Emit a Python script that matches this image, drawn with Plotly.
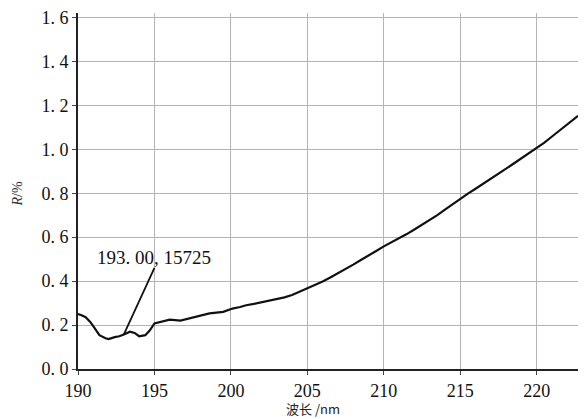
import plotly.graph_objects as go

# Reflectance spectrum, wavelength in nm, reflectance in %
wavelength = [190.0, 190.2, 190.5, 190.8, 191.1, 191.4, 191.8, 192.0, 192.4, 192.7,
              193.0, 193.4, 193.7, 194.0, 194.4, 194.7, 195.0, 195.4, 196.0, 196.7,
              197.3, 197.8, 198.6, 199.5, 200.1, 200.6, 201.0, 201.5, 202.0, 202.5,
              203.0, 203.5, 204.0, 204.5, 205.0, 205.5, 206.0, 206.5, 207.0, 207.5,
              208.0, 208.5, 209.0, 209.5, 210.0, 210.5, 211.0, 211.5, 212.0, 212.5,
              213.0, 213.5, 214.0, 214.5, 215.0, 215.5, 216.0, 216.5, 217.0, 217.5,
              218.0, 218.5, 219.0, 219.5, 220.0, 220.5, 221.0, 221.5, 222.0, 222.7]
reflectance = [0.250, 0.246, 0.236, 0.214, 0.185, 0.154, 0.140, 0.136, 0.145, 0.149,
               0.15725, 0.170, 0.164, 0.149, 0.154, 0.176, 0.207, 0.214, 0.225, 0.220,
               0.230, 0.240, 0.253, 0.260, 0.275, 0.282, 0.290, 0.296, 0.303, 0.309,
               0.318, 0.326, 0.337, 0.352, 0.368, 0.383, 0.398, 0.416, 0.435, 0.455,
               0.475, 0.496, 0.515, 0.537, 0.558, 0.576, 0.595, 0.614, 0.635, 0.656,
               0.677, 0.700, 0.725, 0.750, 0.777, 0.798, 0.820, 0.844, 0.868, 0.890,
               0.912, 0.935, 0.958, 0.981, 1.004, 1.030, 1.058, 1.086, 1.115, 1.152]

x_ticks = [190, 195, 200, 205, 210, 215, 220]
y_ticks = [0.0, 0.2, 0.4, 0.6, 0.8, 1.0, 1.2, 1.4, 1.6]
y_tick_text = ["0. 0", "0. 2", "0. 4", "0. 6", "0. 8", "1. 0", "1. 2", "1. 4", "1. 6"]

# Marked point and where its label sits
mark_x, mark_y = 193.00, 0.15725
label_x, label_y = 195.0, 0.46
label_text = "193. 00, 15725"

serif = "Liberation Serif, serif"

fig = go.Figure()
fig.add_trace(go.Scatter(
    x=wavelength, y=reflectance, mode="lines",
    line=dict(color="#111111", width=2.2),
    showlegend=False, hoverinfo="skip",
))

# Leader line from the marked point up to the label
fig.add_shape(type="line", xref="x", yref="y",
              x0=mark_x, y0=mark_y, x1=label_x, y1=label_y,
              line=dict(color="#111111", width=1.8))
fig.add_annotation(x=label_x, y=label_y, xref="x", yref="y",
                   text=label_text, showarrow=False,
                   xanchor="center", yanchor="bottom", yshift=-2,
                   font=dict(family=serif, size=19, color="#111111"))

# Axis titles
fig.add_annotation(x=0.47, y=0, xref="paper", yref="paper",
                   text="波长 /nm", showarrow=False,
                   xanchor="center", yanchor="middle", yshift=-39,
                   font=dict(family="Noto Sans CJK SC", size=13, color="#222222"))
fig.add_annotation(x=-0.12, y=0.49, xref="paper", yref="paper",
                   text="<i>R</i>/%", showarrow=False, textangle=-90,
                   xanchor="center", yanchor="middle",
                   font=dict(family=serif, size=14, color="#333333"))

axis_common = dict(
    showgrid=True, gridcolor="#b4b4b4", gridwidth=1,
    showline=True, linecolor="#222222", linewidth=2,
    ticks="outside", ticklen=4, tickcolor="#444444",
    tickfont=dict(family=serif, size=18, color="#111111"),
    zeroline=False,
)
fig.update_xaxes(range=[190, 222.7], tickvals=x_ticks,
                 ticktext=[str(v) for v in x_ticks], **axis_common)
fig.update_yaxes(range=[0, 1.62], tickvals=y_ticks,
                 ticktext=y_tick_text, **axis_common)

fig.update_layout(
    width=586, height=419,
    margin=dict(l=78, r=8, t=11, b=50),
    paper_bgcolor="white", plot_bgcolor="white",
    font=dict(family=serif),
)

fig.write_html("out.html")
